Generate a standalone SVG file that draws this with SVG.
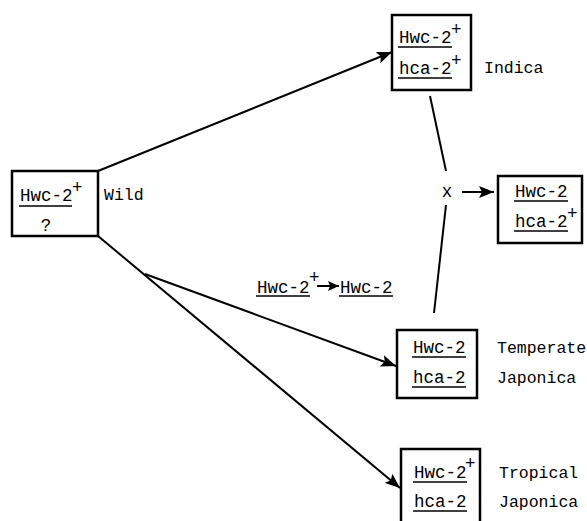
<svg xmlns="http://www.w3.org/2000/svg" width="587" height="521" viewBox="0 0 587 521">
<style>
.box{fill:none;stroke:#000;stroke-width:2.5}
.ln{fill:none;stroke:#000;stroke-width:2}
.ul{stroke:#000;stroke-width:1.6}
text{font-family:"Liberation Mono","DejaVu Sans Mono",monospace;fill:#000}
.g{font-size:17.5px}
.l{font-size:16.5px}
</style>
<defs>
<marker id="ah" markerUnits="userSpaceOnUse" markerWidth="16" markerHeight="12" refX="15" refY="6" orient="auto">
<path d="M0,0 L15,6 L0,12 L3,6 Z" fill="#000"/>
</marker>
<marker id="ahs" markerUnits="userSpaceOnUse" markerWidth="12" markerHeight="10" refX="11" refY="5" orient="auto">
<path d="M0,0 L11,5 L0,10 L2,5 Z" fill="#000"/>
</marker>
</defs>
<g id="connectors">
<line class="ln" x1="98" y1="171" x2="392" y2="52" marker-end="url(#ah)"/>
<line class="ln" x1="98" y1="236" x2="400" y2="488" marker-end="url(#ah)"/>
<line class="ln" x1="145" y1="274" x2="396" y2="366" marker-end="url(#ah)"/>
<line class="ln" x1="430" y1="96" x2="446" y2="171"/>
<line class="ln" x1="446" y1="205" x2="434" y2="313"/>
<line class="ln" x1="462" y1="192" x2="494" y2="192" marker-end="url(#ah)"/>
<line class="ln" x1="317" y1="286" x2="339" y2="286" marker-end="url(#ahs)"/>
</g>
<g id="wild">
<rect class="box" x="12" y="171" width="86" height="65"/>
<text class="g" x="20" y="201">Hwc-2</text>
<text class="g" x="72" y="193">+</text>
<line class="ul" x1="19" y1="206" x2="72" y2="206"/>
<text class="g" x="46" y="231" text-anchor="middle">?</text>
<text class="l" x="104" y="200">Wild</text>
</g>
<g id="indica">
<rect class="box" x="392" y="15" width="79" height="75"/>
<text class="g" x="399" y="43">Hwc-2</text>
<text class="g" x="451" y="35">+</text>
<line class="ul" x1="398" y1="47" x2="452" y2="47"/>
<text class="g" x="399" y="74">hca-2</text>
<text class="g" x="451" y="66">+</text>
<line class="ul" x1="398" y1="78" x2="452" y2="78"/>
<text class="l" x="484" y="73">Indica</text>
</g>
<g id="cross">
<text class="g" x="447" y="197" text-anchor="middle">x</text>
</g>
<g id="hybrid">
<rect class="box" x="498" y="176" width="84" height="67"/>
<text class="g" x="515" y="197">Hwc-2</text>
<line class="ul" x1="514" y1="201" x2="568" y2="201"/>
<text class="g" x="515" y="227">hca-2</text>
<text class="g" x="567" y="219">+</text>
<line class="ul" x1="514" y1="231" x2="568" y2="231"/>
</g>
<g id="mutation">
<text class="g" x="257" y="293">Hwc-2</text>
<text class="g" x="309" y="283">+</text>
<line class="ul" x1="256" y1="296" x2="310" y2="296"/>
<text class="g" x="340" y="293">Hwc-2</text>
<line class="ul" x1="339" y1="296" x2="393" y2="296"/>
</g>
<g id="temperate">
<rect class="box" x="397" y="330" width="80" height="68"/>
<text class="g" x="413" y="353">Hwc-2</text>
<line class="ul" x1="412" y1="357" x2="466" y2="357"/>
<text class="g" x="413" y="383">hca-2</text>
<line class="ul" x1="412" y1="387" x2="466" y2="387"/>
<text class="l" x="497" y="353">Temperate</text>
<text class="l" x="497" y="383">Japonica</text>
</g>
<g id="tropical">
<rect class="box" x="401" y="449" width="79" height="85"/>
<text class="g" x="414" y="478">Hwc-2</text>
<text class="g" x="465" y="469">+</text>
<line class="ul" x1="413" y1="482" x2="467" y2="482"/>
<text class="g" x="414" y="507">hca-2</text>
<line class="ul" x1="413" y1="511" x2="467" y2="511"/>
<text class="l" x="499" y="478">Tropical</text>
<text class="l" x="499" y="507">Japonica</text>
</g>
</svg>
